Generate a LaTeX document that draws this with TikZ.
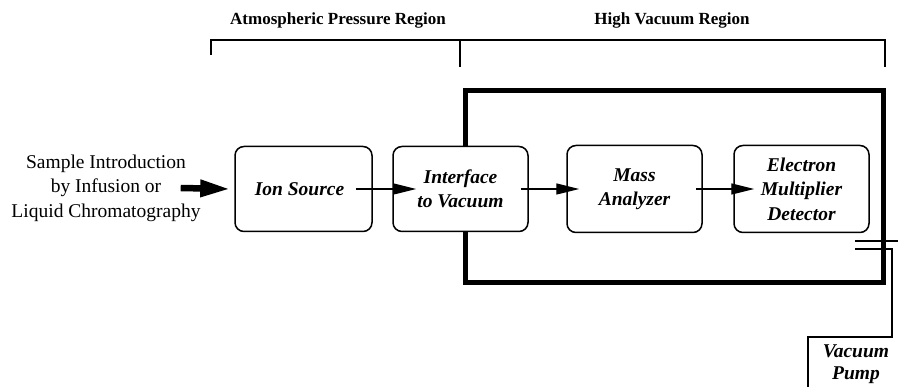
\documentclass[tikz,border=0pt]{standalone}
\usepackage{fontspec}
\setmainfont{Liberation Serif}
\usetikzlibrary{arrows.meta}

\begin{document}
\begin{tikzpicture}[x=1pt,y=-1pt,
  stage/.style={draw, line width=1.5pt, rounded corners=9pt, fill=white,
    align=center, inner sep=0pt, minimum width=135pt,
    font=\fontsize{19.5}{24.5}\selectfont\bfseries\itshape},
  flow/.style={line width=1.3pt, -{Triangle[length=23pt,width=11pt]}},
  feed/.style={line width=6.5pt, -{Triangle[length=30pt,width=16pt]}},
  bracket/.style={line width=1.5pt},
  pipe/.style={line width=1.2pt},
  hdr/.style={font=\fontsize{17}{20}\selectfont\bfseries, inner sep=0pt},
  plain/.style={align=center, inner sep=0pt, font=\fontsize{19.5}{24.5}\selectfont},
]
\useasboundingbox (0,0) rectangle (898,387);

% region brackets and their headings
\node[hdr] (atm) at (338,20) {Atmospheric Pressure Region};
\node[hdr] (hv)  at (672,20) {High Vacuum Region};
\draw[bracket] (211,55) -- (211,40) -- (885,40) -- (885,67);
\draw[bracket] (460,40) -- (460,67);

% vacuum chamber wall
\draw[line width=5pt] (465,91) rectangle (883,283);

% pumping line through the wall down to the pump
\draw[pipe] (855,241) -- (898,241);
\draw[pipe] (855,249) -- (892,249) -- (892,337) -- (808,337) -- (808,387);
\node[plain, font=\fontsize{19.5}{22}\selectfont\bfseries\itshape] (pump) at (856,364) {Vacuum\\Pump};

% instrument stages
\node[stage, minimum width=137pt, minimum height=85pt] (ion)   at (303.5,189) {Ion Source\hspace*{8pt}};
\node[stage, minimum height=85pt] (iface) at (460.5,189) {Interface\\to Vacuum};
\node[stage, minimum height=87pt] (mass)  at (634.5,189) {Mass\\Analyzer};
\node[stage, minimum height=87pt] (det)   at (801.5,189) {Electron\\Multiplier\\Detector};

% sample inlet
\node[plain] (sample) at (106,188) {Sample Introduction\\by Infusion or\\Liquid Chromatography};
\draw[feed] ([xshift=-20pt]sample.east) -- ([xshift=-4pt]ion.west);

% ion path between stages
\draw[flow] ([xshift=-17pt]ion.east) -- ([xshift=24pt]iface.west);
\draw[flow] ([xshift=-8pt]iface.east) -- ([xshift=13pt]mass.west);
\draw[flow] ([xshift=-7pt]mass.east) -- ([xshift=21pt]det.west);
\end{tikzpicture}
\end{document}
